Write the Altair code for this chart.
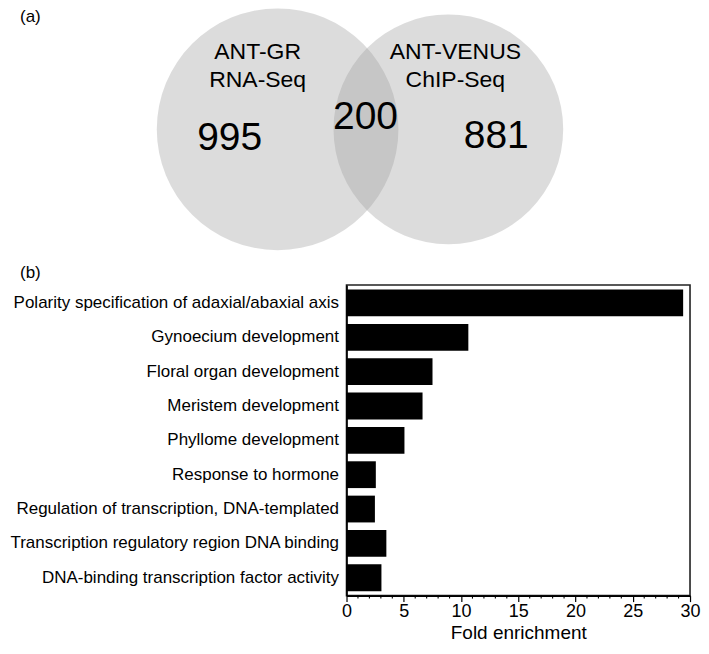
import altair as alt
import pandas as pd

# ---- Venn data (a) ----
set_names = ["ANT-GR\nRNA-Seq", "ANT-VENUS\nChIP-Seq"]
region_counts = [995, 200, 881]

# Venn layout (diagram units, 1 unit ~ 1 px)
circle_cx = [267, 438]
circle_cy = [120, 120]
circle_r = [121, 115]
name_x = [247, 445]
name_y = [43, 43]
count_x = [219, 355, 486]
count_y = [129, 108, 127]
panel_tags = ["(a)", "(b)"]
tag_x = [9, 9]
tag_y = [8, 264]

# ---- Bar data (b) ----
terms = [
    "Polarity specification of adaxial/abaxial axis",
    "Gynoecium development",
    "Floral organ development",
    "Meristem development",
    "Phyllome development",
    "Response to hormone",
    "Regulation of transcription, DNA-templated",
    "Transcription regulatory region DNA binding",
    "DNA-binding transcription factor activity",
]
fold = [29.4, 10.64, 7.51, 6.64, 5.06, 2.56, 2.48, 3.48, 3.05]
major_ticks = [0, 5, 10, 15, 20, 25, 30]
minor_ticks = [1, 2, 3, 4, 6, 7, 8, 9, 11, 12, 13, 14, 16, 17, 18, 19,
               21, 22, 23, 24, 26, 27, 28, 29]

FONT = "Liberation Sans"
LEFT = 336          # width of the label column of panel (b)
PW, PH = 344, 311   # plot area of panel (b)
TOP = 276           # diagram units above the plot area of panel (b)

circles = pd.DataFrame({
    "name": set_names, "cx": circle_cx, "cy": circle_cy,
    "area": [(2 * r) ** 2 for r in circle_r],
})
names = pd.DataFrame({"name": set_names, "x": name_x, "y": name_y})
counts = pd.DataFrame({"count": region_counts, "x": count_x, "y": count_y})
tags = pd.DataFrame({"tag": panel_tags, "x": tag_x, "y": tag_y})


def vx(field):
    return alt.X(field, type="quantitative",
                 scale=alt.Scale(domain=[LEFT, LEFT + PW], nice=False, zero=False),
                 axis=None)


def vy(field):
    return alt.Y(field, type="quantitative",
                 scale=alt.Scale(domain=[TOP, TOP + PH], nice=False, zero=False, reverse=True),
                 axis=None)


circ = alt.Chart(circles).mark_circle(color="#a0a0a0", opacity=0.37, strokeWidth=0).encode(
    x=vx("cx"), y=vy("cy"),
    size=alt.Size("area:Q", scale=None, legend=None),
)
name_txt = alt.Chart(names).mark_text(
    font=FONT, fontSize=23, lineBreak="\n", lineHeight=28, color="black",
    align="center", baseline="middle",
).encode(x=vx("x"), y=vy("y"), text="name:N")
count_txt = alt.Chart(counts).mark_text(
    font=FONT, fontSize=39, color="black", align="center", baseline="middle",
).encode(x=vx("x"), y=vy("y"), text="count:Q")
tag_txt = alt.Chart(tags).mark_text(
    font=FONT, fontSize=17, color="black", align="left", baseline="middle",
).encode(x=vx("x"), y=vy("y"), text="tag:N")

fold_scale = alt.Scale(domain=[0, 30], nice=False)

bars_df = pd.DataFrame({"term": terms, "fold": fold})
bars = alt.Chart(bars_df).mark_bar(color="black").encode(
    x=alt.X(
        "fold:Q",
        scale=fold_scale,
        axis=alt.Axis(
            title="Fold enrichment",
            values=major_ticks,
            tickSize=6, tickColor="black", tickWidth=1.2,
            domainColor="black", domainWidth=1.6,
            labelFont=FONT, labelFontSize=18, labelColor="black",
            labelFlush=False, labelPadding=1,
            titleFont=FONT, titleFontSize=19, titleFontWeight="normal",
            titleColor="black", titlePadding=3,
            grid=False,
        ),
    ),
    y=alt.Y(
        "term:N", sort=terms,
        scale=alt.Scale(paddingInner=0.22, paddingOuter=0.13),
        axis=alt.Axis(
            title=None, ticks=False, labelFont=FONT, labelFontSize=17,
            labelColor="black", labelPadding=8, labelLimit=400,
            domainColor="black", domainWidth=1.6, minExtent=LEFT, grid=False,
        ),
    ),
)

minor = alt.Chart(pd.DataFrame({"v": minor_ticks})).mark_rule(
    color="black", strokeWidth=1.1
).encode(
    x=alt.X("v:Q", scale=fold_scale, axis=None),
    y=alt.value(PH),
    y2=alt.value(PH + 3),
)

chart = alt.layer(circ, name_txt, count_txt, tag_txt, bars, minor).resolve_scale(
    x="independent", y="independent"
).properties(
    width=PW, height=PH, padding=0,
    view=alt.ViewBackground(stroke="#222", strokeWidth=1.6),
).configure(font=FONT)

chart.save("out.html", embed_options={"renderer": "svg", "actions": False})
